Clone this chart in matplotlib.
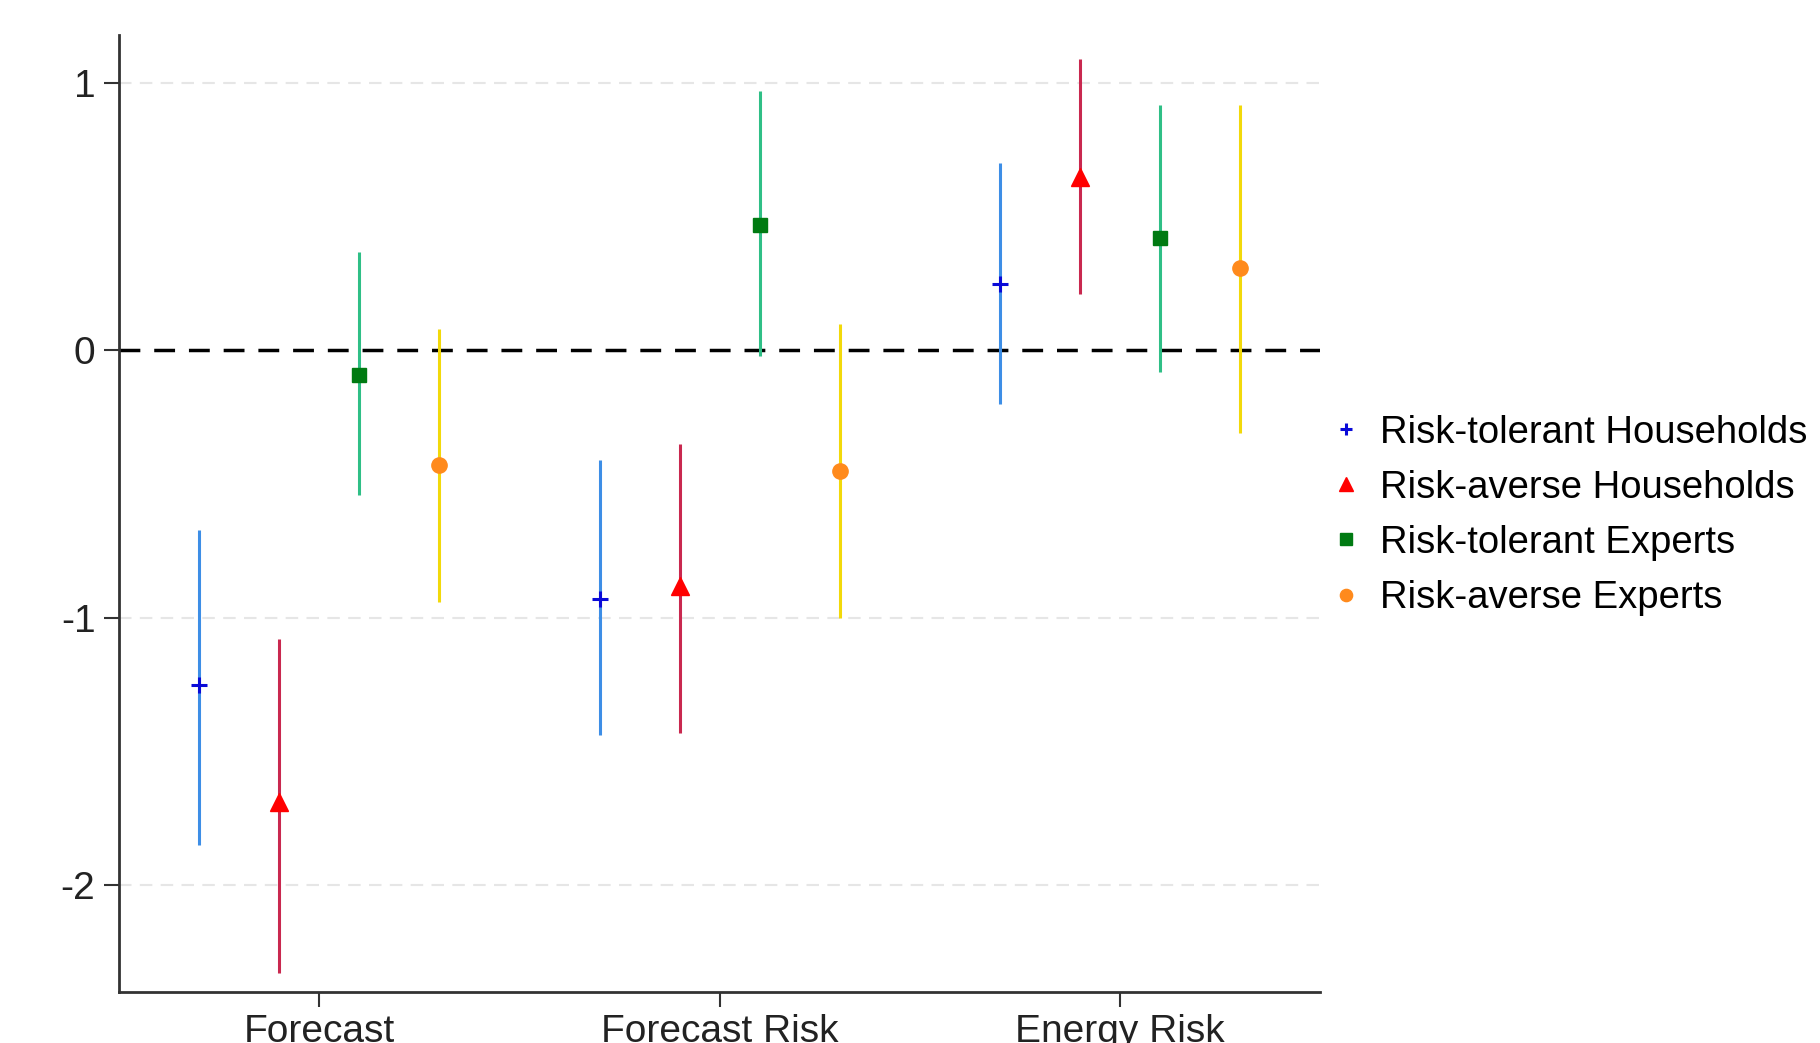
import matplotlib
matplotlib.use("Agg")
import matplotlib.pyplot as plt
import numpy as np

plt.rcParams['font.family'] = ['Liberation Sans', 'DejaVu Sans']

categories = ["Forecast", "Forecast Risk", "Energy Risk"]
series = ["Risk-tolerant Households", "Risk-averse Households",
          "Risk-tolerant Experts", "Risk-averse Experts"]

# point estimates per series (one value per category)
est_rt_hh = [-1.25, -0.93, 0.25]
est_ra_hh = [-1.69, -0.88, 0.65]
est_rt_ex = [-0.09, 0.47, 0.42]
est_ra_ex = [-0.43, -0.45, 0.31]

# confidence interval bounds
lo_rt_hh = [-1.85, -1.44, -0.20]
hi_rt_hh = [-0.67, -0.41, 0.70]
lo_ra_hh = [-2.33, -1.43, 0.21]
hi_ra_hh = [-1.08, -0.35, 1.09]
lo_rt_ex = [-0.54, -0.02, -0.08]
hi_rt_ex = [0.37, 0.97, 0.92]
lo_ra_ex = [-0.94, -1.00, -0.31]
hi_ra_ex = [0.08, 0.10, 0.92]

ests = [est_rt_hh, est_ra_hh, est_rt_ex, est_ra_ex]
los = [lo_rt_hh, lo_ra_hh, lo_rt_ex, lo_ra_ex]
his = [hi_rt_hh, hi_ra_hh, hi_rt_ex, hi_ra_ex]

offsets = [-0.3, -0.1, 0.1, 0.3]
ci_colors = ["#3d8ee6", "#c9284f", "#2fbf86", "#f2d90a"]
mk_colors = ["#0a0ad8", "#ff0000", "#007a12", "#ff8a1c"]
markers = ["+", "^", "s", "o"]
msizes = [11, 13, 10, 11]

fig = plt.figure(figsize=(18.2, 10.43), dpi=100)
ax = fig.add_axes([0.0654, 0.0489, 0.66, 0.9175])

x = np.arange(1, len(categories) + 1)

for yv in [1, -1, -2]:
    ax.axhline(yv, color="#e6e6e6", lw=1.5, ls=(0, (6, 4)), zorder=0)
ax.axhline(0, color="black", lw=2.5, ls=(0, (6, 4)), zorder=1)

handles = []
for i in range(4):
    xs = x + offsets[i]
    ax.vlines(xs, los[i], his[i], color=ci_colors[i], lw=2.2, zorder=2)
    mew = 2.2 if markers[i] == "+" else 1
    h, = ax.plot(xs, ests[i], ls="none", marker=markers[i], ms=msizes[i],
                 color=mk_colors[i], mew=mew, zorder=3, label=series[i])
    handles.append(h)

ax.set_xlim(0.5, 3.5)
ax.set_ylim(-2.4, 1.18)
ax.set_xticks(x)
ax.set_xticklabels(categories)
ax.set_yticks([1, 0, -1, -2])
ax.set_yticklabels(["1", "0", "-1", "-2"])
ax.tick_params(axis="both", labelsize=28, length=11, width=1.5, color="#333333",
               labelcolor="#222222")
ax.tick_params(axis="x", pad=5)
ax.tick_params(axis="y", pad=6)
for s in ["top", "right"]:
    ax.spines[s].set_visible(False)
for s in ["left", "bottom"]:
    ax.spines[s].set_linewidth(2)
    ax.spines[s].set_color("#333333")

fig.legend(handles=handles, loc="center left", bbox_to_anchor=(0.711, 0.506),
           frameon=False, fontsize=27.5, handlelength=0.9, handletextpad=0.45,
           labelspacing=0.5, markerscale=0.8)

fig.savefig("out.png", dpi=100)
